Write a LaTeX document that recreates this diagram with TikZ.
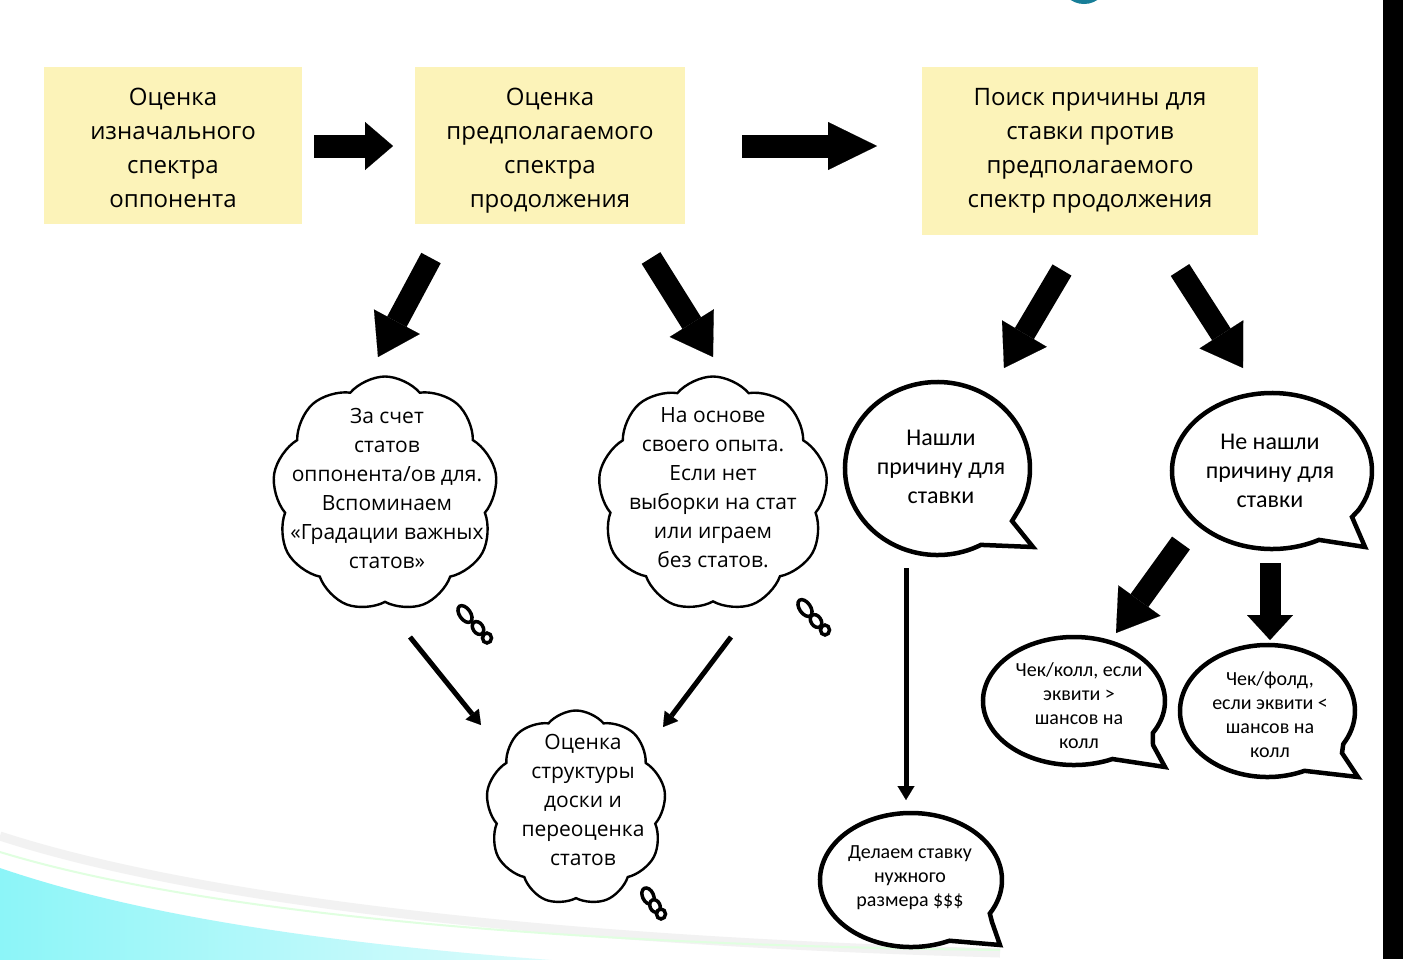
\documentclass[tikz,border=0pt]{standalone}
\usepackage{fontspec}
\setmainfont{Open Sans}
\newfontfamily\calib{Carlito}
\usetikzlibrary{shapes.symbols,arrows.meta,calc}
\definecolor{boxfill}{RGB}{252,243,185}
\definecolor{teal1}{RGB}{23,126,152}
\definecolor{cyan1}{RGB}{140,245,248}
\definecolor{cyan2}{RGB}{225,252,252}
\begin{document}
\begin{tikzpicture}[x=1pt,y=-1pt,
 box/.style={fill=boxfill, inner sep=0pt, align=center, font=\fontsize{24}{34}\selectfont},
 cloudsty/.style={cloud, cloud puffs=9, cloud puff arc=100, draw, line width=2.4pt, fill=white, inner sep=0pt},
 cloudtext/.style={align=center, font=\fontsize{21}{29}\selectfont, inner sep=0pt},
 bubble/.style={draw, line width=4.5pt, fill=white, line join=miter},
 bubtext/.style={align=center, inner sep=0pt},
 blockarrow/.style={line width=22pt, -{Triangle[length=40pt,width=52pt,line width=0.1pt]}},
 thinarrow/.style={line width=5pt, -{Triangle[length=14pt,width=17pt,line width=0.1pt]}},
 thought/.style={draw, line width=3.5pt, fill=white},
]
\useasboundingbox (0,0) rectangle (1403,959);
% background decorations
\fill[white] (0,0) rectangle (1403,959);
\draw[line width=6pt, teal1] (1084,-20) circle (21);
\fill[black] (1383,0) rectangle (1403,959);
\draw[line width=9pt, black!5] (0,836) .. controls (150,885) and (450,938) .. (1000,953);
\draw[line width=2pt, green!12] (0,852) .. controls (150,898) and (450,944) .. (1000,950);
\shade[left color=cyan1, right color=cyan2] (0,868) .. controls (100,902) and (260,940) .. (580,962) -- (0,962) -- cycle;

% top boxes
\node[box, minimum width=258pt, minimum height=157pt] (b1) at (173,145.5) {};
\node[box] (b1t) at (173,148) {Оценка\\изначального\\спектра\\оппонента};
\node[box, minimum width=270pt, minimum height=157pt] (b2) at (550,145.5) {};
\node[box] (b2t) at (550,151) {Оценка\\предполагаемого\\спектра\\продолжения};
\node[box, minimum width=336pt, minimum height=168pt] (b3) at (1090,151) {};
\node[box] (b3t) at (1090,151) {Поиск причины для\\ставки против\\предполагаемого\\спектр продолжения};

% arrow endpoints
\coordinate (a1s) at (314,146); \coordinate (a1e) at (393,146);
\coordinate (a2s) at (742,146); \coordinate (a2e) at (877,146);
\coordinate (a3s) at (431,258); \coordinate (a3e) at (378,357);
\coordinate (a4s) at (651,258); \coordinate (a4e) at (713,357);
\coordinate (a5s) at (1062,270); \coordinate (a5e) at (1004,368);
\coordinate (a6s) at (1180,270); \coordinate (a6e) at (1243,368);
\coordinate (a7s) at (1181,543); \coordinate (a7e) at (1116,633);
\coordinate (a8s) at (1270,563); \coordinate (a8e) at (1270,640);
\coordinate (t1s) at (410,637); \coordinate (t1e) at (481,725);
\coordinate (t2s) at (731,637); \coordinate (t2e) at (663,727);
\coordinate (t3s) at (906,568); \coordinate (t3e) at (906,800);

\draw[line width=23pt, -{Triangle[length=28pt,width=48pt,line width=0.1pt]}] (a1s) -- (a1e);
\draw[line width=23pt, -{Triangle[length=49pt,width=48pt,line width=0.1pt]}] (a2s) -- (a2e);
\draw[blockarrow] (a3s) -- (a3e);
\draw[blockarrow] (a4s) -- (a4e);
\draw[blockarrow] (a5s) -- (a5e);
\draw[blockarrow] (a6s) -- (a6e);
\draw[blockarrow] (a7s) -- (a7e);
\draw[line width=21pt, -{Triangle[length=25pt,width=46pt,line width=0.1pt]}] (a8s) -- (a8e);
\draw[thinarrow] (t1s) -- (t1e);
\draw[thinarrow] (t2s) -- (t2e);
\draw[thinarrow] (t3s) -- (t3e);

% clouds
\node[cloudsty, minimum width=225pt, minimum height=235pt] (c1) at (385,494) {};
\node[cloudtext] (c1t) at (387,488) {За счет\\статов\\оппонента/ов для.\\Вспоминаем\\«Градации важных\\статов»};
\node[cloudsty, minimum width=230pt, minimum height=235pt] (c2) at (713,494) {};
\node[cloudtext] (c2t) at (713,488) {На основе\\своего опыта.\\Если нет\\выборки на стат\\или играем\\без статов.};
\node[cloudsty, minimum width=180pt, minimum height=195pt] (c3) at (576,808) {};
\node[cloudtext] (c3t) at (583,800) {Оценка\\структуры\\доски и\\переоценка\\статов};

% thought bubbles
\draw[thought, rotate around={35:(465,614)}] (465,614) ellipse (5.5 and 9.5);
\draw[thought, rotate around={35:(478,628)}] (478,628) ellipse (5 and 7);
\draw[thought] (487,638) ellipse (4.5 and 5);
\draw[thought, rotate around={35:(805,608)}] (805,608) ellipse (5.5 and 9.5);
\draw[thought, rotate around={35:(816,621)}] (816,621) ellipse (5 and 7);
\draw[thought] (825,630) ellipse (4.5 and 5);
\draw[thought, rotate around={25:(648,896)}] (648,896) ellipse (5.5 and 8.5);
\draw[thought, rotate around={25:(655,906)}] (655,906) ellipse (5 and 6.5);
\draw[thought] (661,914) ellipse (4.5 and 5);

% speech bubbles
\coordinate (s1c) at (937.5,468.5);
\draw[bubble] ($(s1c)+(62:92.5 and 86.5)$) arc[start angle=62,end angle=390,x radius=92.5,y radius=86.5] -- (1012,521) -- (1033,547) -- cycle;
\node[bubtext, font=\calib\fontsize{24}{29}\selectfont] (s1t) at (941,467) {Нашли\\причину для\\ставки};

\coordinate (s2c) at (1272,471);
\draw[bubble] ($(s2c)+(62:100 and 78)$) arc[start angle=62,end angle=390,x radius=100,y radius=78] -- (1352,517) -- (1365,547) -- cycle;
\node[bubtext, font=\calib\fontsize{24}{29}\selectfont] (s2t) at (1270,471) {Не нашли\\причину для\\ставки};

\coordinate (s3c) at (1074,701);
\draw[bubble] ($(s3c)+(65:91 and 64)$) arc[start angle=65,end angle=390,x radius=91,y radius=64] -- (1153,745) -- (1165,767) -- cycle;
\node[bubtext, font=\calib\fontsize{20}{24}\selectfont] (s3t) at (1079,706) {Чек/колл, если\\эквити >\\шансов на\\колл};

\coordinate (s4c) at (1267.5,711);
\draw[bubble] ($(s4c)+(65:87.5 and 66)$) arc[start angle=65,end angle=390,x radius=87.5,y radius=66] -- (1342,753) -- (1358,777) -- cycle;
\node[bubtext, font=\calib\fontsize{20}{24}\selectfont] (s4t) at (1270,715) {Чек/фолд,\\если эквити <\\шансов на\\колл};

\coordinate (s5c) at (911,880);
\draw[bubble] ($(s5c)+(65:91 and 67)$) arc[start angle=65,end angle=390,x radius=91,y radius=67] -- (992,922) -- (1000,945) -- cycle;
\node[bubtext, font=\calib\fontsize{20}{24}\selectfont] (s5t) at (910,878) {Делаем ставку\\нужного\\размера \$\$\$};
\end{tikzpicture}
\end{document}
